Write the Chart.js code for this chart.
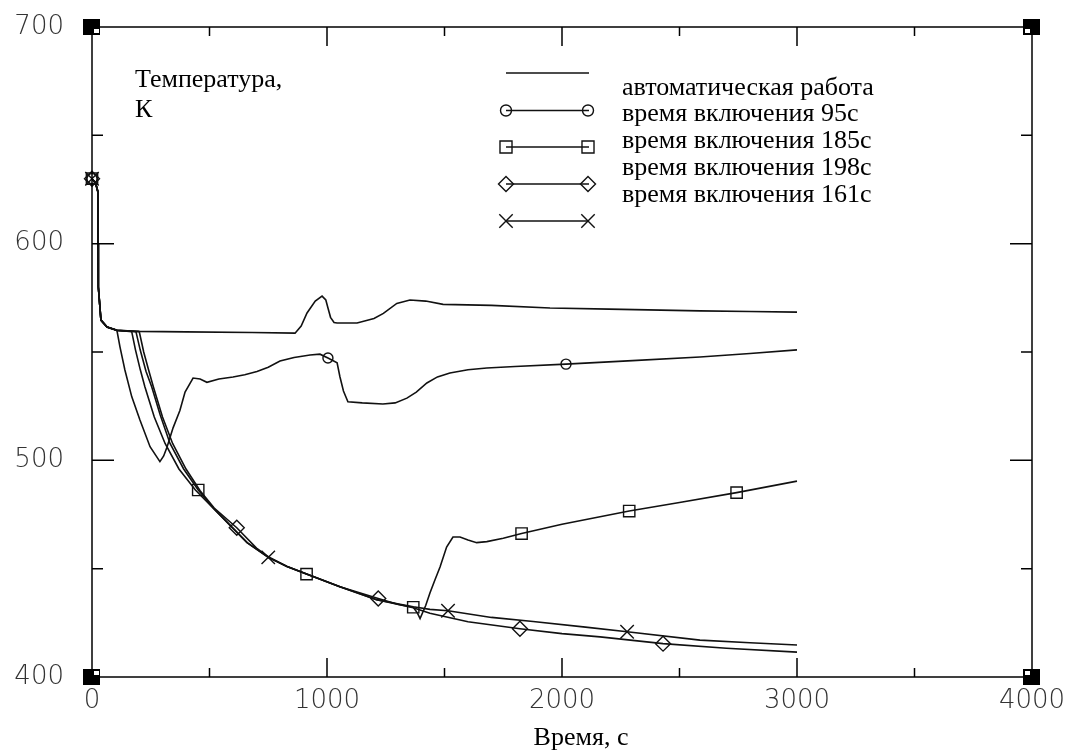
<!DOCTYPE html>
<html>
<head>
<meta charset="utf-8">
<script src="https://cdn.jsdelivr.net/npm/chart.js@4/dist/chart.umd.min.js"></script>
<style>
  html, body { margin: 0; background: #fff; }
</style>
</head>
<body>
<canvas id="c" width="1075" height="753"></canvas>
<script>
// подписи
const yTitle = ["Температура,", "К"];
const xTitle = "Время, с";
const seriesLabels = [
  "автоматическая работа",
  "время включения 95с",
  "время включения 185с",
  "время включения 198с",
  "время включения 161с",
];

// автоматическая работа
const autoTime = [0, 15, 25, 26, 27, 38, 64, 106, 200, 400, 681, 864, 890, 915, 950, 979, 995, 1005, 1015, 1030, 1043, 1128, 1200, 1240, 1297, 1353, 1420, 1494, 1700, 1949, 2200, 2587, 2800, 3000];
const autoTemp = [630, 628, 624, 600, 580, 564.7, 561.5, 560, 559.5, 559.3, 559, 558.7, 562, 568, 573.5, 575.8, 574, 570, 566, 563.6, 563.4, 563.4, 565.5, 567.8, 572.4, 574, 573.5, 572, 571.5, 570.3, 569.8, 569, 568.7, 568.4];

// время включения 95с
const t95 = [0, 15, 25, 26, 27, 38, 64, 106, 119, 140, 169, 204, 247, 289, 305, 319, 345, 374, 396, 430, 460, 489, 540, 600, 650, 702, 750, 800, 860, 928, 970, 1004, 1043, 1055, 1070, 1089, 1150, 1238, 1290, 1340, 1380, 1425, 1470, 1523, 1600, 1680, 1800, 2017, 2300, 2587, 2800, 3000];
const v95 = [630, 628, 624, 600, 580, 564.7, 561.5, 560, 552.4, 541.7, 529.4, 518.6, 506.3, 499.4, 502, 506, 515, 523, 531.5, 538, 537.5, 536, 537.5, 538.5, 539.5, 541, 543, 545.8, 547.5, 548.6, 549, 547.2, 545, 538.6, 532, 527, 526.5, 526, 526.5, 528.7, 531.5, 535.7, 538.5, 540.3, 541.8, 542.6, 543.3, 544.4, 546, 547.7, 549.3, 551];
const marks95 = [0, 1004, 2017];

// время включения 185с
const t185 = [0, 15, 25, 26, 27, 38, 64, 106, 187, 205, 230, 254, 290, 332, 390, 452, 520, 587, 660, 750, 830, 913, 1055, 1211, 1300, 1367, 1385, 1396, 1420, 1438, 1460, 1481, 1509, 1536, 1566, 1600, 1637, 1680, 1750, 1828, 2000, 2286, 2500, 2743, 3000];
const v185 = [630, 628, 624, 600, 580, 564.7, 561.5, 560, 559.4, 551, 541, 534, 521, 507.8, 496, 486.3, 477.5, 470.1, 462, 455.2, 451, 447.5, 441.7, 435.7, 433.6, 432.2, 429.5, 427, 433, 438.8, 445, 450.8, 460, 464.6, 464.6, 463.2, 462, 462.5, 464, 466.2, 470.5, 476.6, 480.5, 485.1, 490.4];
const marks185 = [0, 452, 913, 1367, 1828, 2286, 2743];

// время включения 198с
const t198 = [0, 15, 25, 26, 27, 38, 64, 106, 201, 220, 240, 261, 300, 343, 400, 460, 520, 616, 700, 750, 830, 913, 1055, 1218, 1300, 1367, 1438, 1600, 1821, 2000, 2162, 2430, 2700, 3000];
const v198 = [630, 628, 624, 600, 580, 564.7, 561.5, 560, 559.4, 550, 542, 534, 520, 507.8, 496, 486, 478, 468.9, 459.5, 455.5, 451, 447.5, 441.7, 436.2, 433.6, 432, 429.4, 425.5, 422.3, 420, 418.5, 415.4, 413.3, 411.5];
const marks198 = [0, 616, 1218, 1821, 2430];

// время включения 161с
const t161 = [0, 15, 25, 26, 27, 38, 64, 106, 169, 185, 205, 225, 265, 311, 370, 440, 520, 587, 660, 750, 830, 913, 1055, 1211, 1300, 1367, 1438, 1515, 1700, 1877, 2100, 2277, 2587, 2800, 3000];
const v161 = [630, 628, 624, 600, 580, 564.7, 561.5, 560, 559.4, 551, 542, 534, 520, 507.8, 496, 486.3, 477.5, 470.1, 462, 455.2, 451, 447.5, 441.7, 435.7, 433.8, 432.4, 431.2, 430.6, 427.5, 425.6, 423, 420.9, 417, 415.8, 414.8];
const marks161 = [0, 750, 1515, 2277];

const xTicks = [0, 1000, 2000, 3000, 4000];
const yTicks = [400, 500, 600, 700];

const INK = "#111";
const SERIF = "'Liberation Serif', 'Times New Roman', serif";

const pts = (ts, vs) => ts.map((t, i) => ({ x: t, y: vs[i] }));

function series(label, ts, vs, marks, style, r) {
  return {
    label,
    data: pts(ts, vs),
    borderColor: INK,
    borderWidth: 1.6,
    backgroundColor: "rgba(0,0,0,0)",
    pointStyle: style,
    pointRadius: (c) => (marks.includes(c.raw.x) ? r : 0),
    pointBorderColor: INK,
    pointBorderWidth: 1.4,
    pointHoverRadius: 0,
    tension: 0,
    clip: false,
  };
}

const datasets = [
  series(seriesLabels[0], autoTime, autoTemp, [], false, 0),
  series(seriesLabels[1], t95, v95, marks95, "circle", 5),
  series(seriesLabels[2], t185, v185, marks185, "rect", 8),
  series(seriesLabels[3], t198, v198, marks198, "rectRot", 7.5),
  series(seriesLabels[4], t161, v161, marks161, "crossRot", 9.5),
];

// маркер легенды
function mark(ctx, style, x, y, r) {
  ctx.beginPath();
  if (style === "circle") {
    ctx.arc(x, y, r, 0, Math.PI * 2);
  } else if (style === "rect") {
    const s = r * Math.SQRT1_2;
    ctx.rect(x - s, y - s, 2 * s, 2 * s);
  } else if (style === "rectRot") {
    ctx.moveTo(x - r, y); ctx.lineTo(x, y - r); ctx.lineTo(x + r, y); ctx.lineTo(x, y + r); ctx.closePath();
  } else if (style === "crossRot") {
    const s = r * Math.SQRT1_2;
    ctx.moveTo(x - s, y - s); ctx.lineTo(x + s, y + s);
    ctx.moveTo(x - s, y + s); ctx.lineTo(x + s, y - s);
  }
  ctx.stroke();
}

const framePlugin = {
  id: "frame",
  afterDatasetsDraw(chart) {
    const { ctx, chartArea: a, scales: { x, y } } = chart;
    ctx.save();
    ctx.strokeStyle = "#000";
    ctx.lineWidth = 1.5;
    ctx.strokeRect(a.left, a.top, a.right - a.left, a.bottom - a.top);

    // засечки внутрь
    ctx.beginPath();
    for (let v = 500; v < 4000; v += 500) {
      const px = x.getPixelForValue(v);
      const len = v % 1000 === 0 ? 19 : 9;
      ctx.moveTo(px, a.bottom); ctx.lineTo(px, a.bottom - len);
      ctx.moveTo(px, a.top); ctx.lineTo(px, a.top + len);
    }
    for (let v = 450; v < 700; v += 50) {
      const py = y.getPixelForValue(v);
      const len = v % 100 === 0 ? 22 : 11;
      ctx.moveTo(a.left, py); ctx.lineTo(a.left + len, py);
      ctx.moveTo(a.right, py); ctx.lineTo(a.right - len, py);
    }
    ctx.stroke();

    // чёрные уголки
    const corners = [
      [a.left, a.top, 1, 1], [a.right, a.top, -1, 1],
      [a.left, a.bottom, 1, -1], [a.right, a.bottom, -1, -1],
    ];
    corners.forEach(([cx, cy, dx, dy]) => {
      ctx.fillStyle = "#000";
      ctx.fillRect(cx - 9, cy - 8, 17, 16);
      ctx.fillStyle = "#fff";
      ctx.fillRect(dx > 0 ? cx + 2 : cx - 7, dy > 0 ? cy + 2 : cy - 6, 5, 4);
    });

    // подпись оси Y внутри поля
    ctx.fillStyle = "#000";
    ctx.font = "26px " + SERIF;
    ctx.textAlign = "left";
    ctx.textBaseline = "alphabetic";
    ctx.fillText(yTitle[0], 135, 87);
    ctx.fillText(yTitle[1], 135, 117);

    // подпись оси X
    ctx.textAlign = "center";
    ctx.fillText(xTitle, 581, 745);

    // легенда
    const styles = [false, "circle", "rect", "rectRot", "crossRot"];
    const radii = [0, 5.5, 8.5, 7.5, 9.5];
    const textY = [95, 121, 148, 175, 202];
    const lineY = [73, 110.5, 147, 184, 221];
    ctx.textAlign = "left";
    ctx.lineWidth = 1.6;
    ctx.strokeStyle = INK;
    seriesLabels.forEach((lab, i) => {
      ctx.beginPath();
      ctx.moveTo(506, lineY[i]); ctx.lineTo(589, lineY[i]);
      ctx.stroke();
      if (styles[i]) {
        ctx.lineWidth = 1.4;
        mark(ctx, styles[i], 506, lineY[i], radii[i]);
        mark(ctx, styles[i], 588, lineY[i], radii[i]);
        ctx.lineWidth = 1.6;
      }
      ctx.fillText(lab, 622, textY[i]);
    });
    ctx.restore();
  },
};

const tickFont = { family: "'DejaVu Sans', sans-serif", size: 26, weight: 200 };

new Chart(document.getElementById("c"), {
  type: "line",
  data: { datasets },
  options: {
    responsive: false,
    animation: false,
    devicePixelRatio: 1,
    layout: { padding: { left: 0, top: 27, right: 43, bottom: 0 } },
    plugins: { legend: { display: false }, tooltip: { enabled: false } },
    scales: {
      x: {
        type: "linear",
        min: 0,
        max: 4000,
        afterFit: (s) => {
          s.height = 76;
          s.paddingLeft = 0; s.paddingRight = 0;
        },
        afterBuildTicks: (s) => { s.ticks = xTicks.map((v) => ({ value: v })); },
        grid: { display: false, drawTicks: false },
        border: { display: false },
        ticks: {
          padding: 9,
          color: "#333",
          font: tickFont,
          maxRotation: 0,
          callback: (v) => String(v),
        },
      },
      y: {
        type: "linear",
        min: 400,
        max: 700,
        afterFit: (s) => {
          s.width = 92;
          s.paddingTop = 0; s.paddingBottom = 0;
        },
        afterBuildTicks: (s) => { s.ticks = yTicks.map((v) => ({ value: v })); },
        grid: { display: false, drawTicks: false },
        border: { display: false },
        ticks: {
          padding: 28,
          color: "#333",
          font: tickFont,
          callback: (v) => String(v),
        },
      },
    },
  },
  plugins: [framePlugin],
});
</script>
</body>
</html>
